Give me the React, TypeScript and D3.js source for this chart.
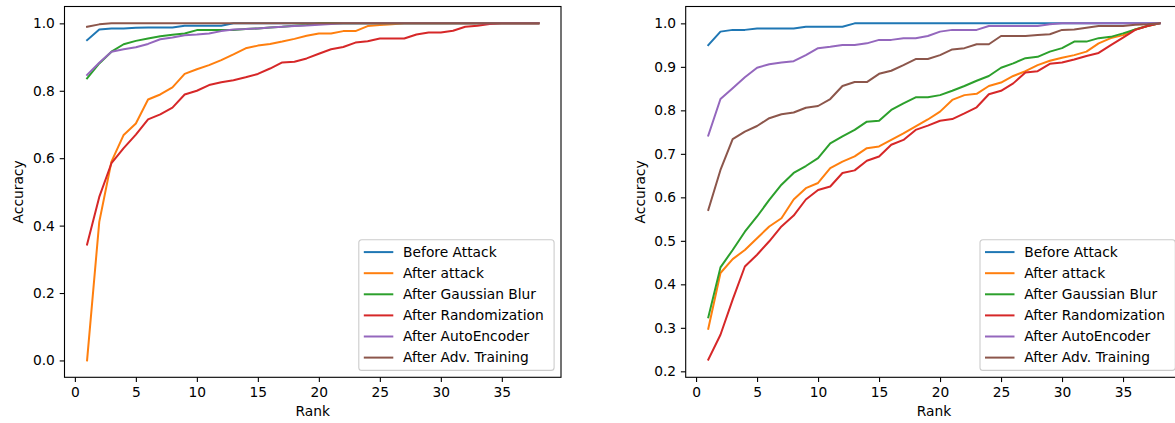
import React, { useRef, useEffect } from "react";
import * as d3 from "d3";

const ranks = d3.range(1, 39);
const seriesNames = ["Before Attack", "After attack", "After Gaussian Blur", "After Randomization", "After AutoEncoder", "After Adv. Training"];
const colors = ["#1f77b4", "#ff7f0e", "#2ca02c", "#d62728", "#9467bd", "#8c564b"];

const ones = (n: number) => Array(n).fill(1.0);

// left panel
const leftBefore = [0.95, 0.982, 0.985, 0.985, 0.987, 0.988, 0.988, 0.988, 0.993, 0.993, 0.993, 0.993, ...ones(26)];
const leftAttack = [0.0, 0.411, 0.59, 0.669, 0.703, 0.774, 0.789, 0.81, 0.85, 0.864, 0.876, 0.891, 0.908, 0.926, 0.934, 0.939, 0.946, 0.954, 0.963, 0.97, 0.97, 0.977, 0.977, 0.992, 0.995, 0.997, ...ones(12)];
const leftBlur = [0.837, 0.881, 0.916, 0.938, 0.948, 0.955, 0.962, 0.966, 0.97, 0.98, 0.98, 0.98, 0.98, 0.983, 0.985, 0.988, 0.99, 0.993, 0.995, ...ones(19)];
const leftRandom = [0.344, 0.485, 0.585, 0.63, 0.67, 0.715, 0.73, 0.75, 0.789, 0.8, 0.817, 0.825, 0.831, 0.84, 0.85, 0.866, 0.884, 0.886, 0.896, 0.91, 0.923, 0.93, 0.943, 0.947, 0.955, 0.955, 0.955, 0.967, 0.973, 0.973, 0.978, 0.99, 0.993, 0.998, ...ones(4)];
const leftAuto = [0.847, 0.883, 0.916, 0.923, 0.929, 0.939, 0.953, 0.958, 0.965, 0.967, 0.97, 0.977, 0.982, 0.983, 0.985, 0.988, 0.99, 0.992, 0.994, 0.996, 0.998, ...ones(17)];
const leftAdv = [0.99, 0.997, ...ones(36)];

// right panel
const rightBefore = [0.95, 0.981, 0.985, 0.985, 0.988, 0.988, 0.988, 0.988, 0.992, 0.992, 0.992, 0.992, ...ones(26)];
const rightAttack = [0.298, 0.426, 0.458, 0.479, 0.506, 0.533, 0.552, 0.595, 0.621, 0.633, 0.667, 0.682, 0.694, 0.713, 0.717, 0.732, 0.747, 0.763, 0.779, 0.797, 0.824, 0.835, 0.838, 0.856, 0.864, 0.879, 0.89, 0.904, 0.914, 0.921, 0.927, 0.935, 0.954, 0.966, 0.973, 0.986, 0.994, 1.0];
const rightBlur = [0.324, 0.439, 0.479, 0.521, 0.556, 0.594, 0.629, 0.656, 0.672, 0.69, 0.724, 0.74, 0.755, 0.774, 0.776, 0.801, 0.816, 0.83, 0.83, 0.835, 0.845, 0.856, 0.868, 0.879, 0.898, 0.908, 0.92, 0.923, 0.935, 0.943, 0.958, 0.958, 0.966, 0.969, 0.977, 0.986, 0.994, 1.0];
const rightRandom = [0.227, 0.284, 0.365, 0.441, 0.468, 0.499, 0.533, 0.558, 0.595, 0.617, 0.625, 0.656, 0.662, 0.684, 0.694, 0.721, 0.732, 0.755, 0.765, 0.776, 0.78, 0.793, 0.807, 0.837, 0.845, 0.862, 0.887, 0.89, 0.907, 0.91, 0.917, 0.925, 0.932, 0.95, 0.967, 0.985, 0.994, 1.0];
const rightAuto = [0.742, 0.826, 0.851, 0.876, 0.898, 0.906, 0.91, 0.913, 0.927, 0.943, 0.946, 0.95, 0.95, 0.954, 0.962, 0.962, 0.966, 0.966, 0.971, 0.981, 0.985, 0.985, 0.985, 0.994, 0.994, 0.994, 0.994, 0.994, 0.998, ...ones(9)];
const rightAdv = [0.571, 0.663, 0.734, 0.751, 0.764, 0.782, 0.791, 0.795, 0.806, 0.81, 0.826, 0.856, 0.865, 0.865, 0.884, 0.891, 0.904, 0.918, 0.918, 0.927, 0.94, 0.943, 0.952, 0.952, 0.971, 0.971, 0.971, 0.973, 0.975, 0.985, 0.986, 0.99, 0.994, 0.994, 0.994, 0.997, 0.998, 1.0];

const xTicks = [0, 5, 10, 15, 20, 25, 30, 35];
const leftYTicks = [0.0, 0.2, 0.4, 0.6, 0.8, 1.0];
const rightYTicks = [0.2, 0.3, 0.4, 0.5, 0.6, 0.7, 0.8, 0.9, 1.0];

const W = 1175;
const H = 423;
const TOP = 6.5;
const BOTTOM = 377.3;
const FONT = "DejaVu Sans, sans-serif";
const FS = 13.8;

const panels = [
  {
    left: 64.5, right: 561, yDomain: [-0.05, 1.05], yTicks: leftYTicks, ylabelX: 18,
    series: [leftBefore, leftAttack, leftBlur, leftRandom, leftAuto, leftAdv],
  },
  {
    left: 685.7, right: 1182.2, yDomain: [0.18625, 1.03875], yTicks: rightYTicks, ylabelX: 640,
    series: [rightBefore, rightAttack, rightBlur, rightRandom, rightAuto, rightAdv],
  },
];

const drawPanel = (svg: any, p: any) => {
  const x = d3.scaleLinear().domain([-0.85, 39.85]).range([p.left, p.right]);
  const y = d3.scaleLinear().domain(p.yDomain).range([BOTTOM, TOP]);

  const line = d3.line<number>().x((d, i) => x(ranks[i])).y(d => y(d));
  p.series.forEach((vals: number[], i: number) => {
    svg.append("path")
      .datum(vals)
      .attr("d", line)
      .attr("fill", "none")
      .attr("stroke", colors[i])
      .attr("stroke-width", 2)
      .attr("stroke-linejoin", "round")
      .attr("stroke-linecap", "square");
  });

  const xAxis = svg.append("g").attr("transform", `translate(0, ${BOTTOM})`)
    .call(d3.axisBottom(x).tickValues(xTicks).tickSize(4.8).tickPadding(4.8).tickFormat(d3.format("d")));
  const yAxis = svg.append("g").attr("transform", `translate(${p.left}, 0)`)
    .call(d3.axisLeft(y).tickValues(p.yTicks).tickSize(4.8).tickPadding(4.8).tickFormat(d3.format(".1f")));
  [xAxis, yAxis].forEach(a => {
    a.select(".domain").remove();
    a.selectAll("line").attr("stroke", "#000").attr("stroke-width", 1.1);
    a.selectAll("text").attr("font-family", FONT).attr("font-size", FS).attr("fill", "#000");
  });

  svg.append("rect")
    .attr("x", p.left).attr("y", TOP)
    .attr("width", p.right - p.left).attr("height", BOTTOM - TOP)
    .attr("fill", "none").attr("stroke", "#000").attr("stroke-width", 1.1);

  svg.append("text")
    .attr("x", (p.left + p.right) / 2).attr("y", 416)
    .attr("text-anchor", "middle")
    .attr("font-family", FONT).attr("font-size", FS)
    .text("Rank");
  svg.append("text")
    .attr("transform", `translate(${p.ylabelX}, ${(TOP + BOTTOM) / 2}) rotate(-90)`)
    .attr("text-anchor", "middle")
    .attr("dy", "0.35em")
    .attr("font-family", FONT).attr("font-size", FS)
    .text("Accuracy");

  // legend, lower right
  const lw = 195.3, lh = 130.7;
  const lx = p.right - 6.9 - lw;
  const ly = BOTTOM - 6.9 - lh;
  const lg = svg.append("g").attr("transform", `translate(${lx}, ${ly})`);
  lg.append("rect")
    .attr("width", lw).attr("height", lh).attr("rx", 3)
    .attr("fill", "#fff").attr("fill-opacity", 0.8)
    .attr("stroke", "#ccc").attr("stroke-width", 1.1);
  seriesNames.forEach((name, i) => {
    const cy = 12.4 + i * 21.1;
    lg.append("line")
      .attr("x1", 5).attr("x2", 34.5).attr("y1", cy).attr("y2", cy)
      .attr("stroke", colors[i]).attr("stroke-width", 2);
    lg.append("text")
      .attr("x", 44.3).attr("y", cy).attr("dy", "0.35em")
      .attr("font-family", FONT).attr("font-size", FS).attr("fill", "#000")
      .text(name);
  });
};

const ChartWrapper = () => {
  const ref = useRef<SVGSVGElement>(null);

  useEffect(() => {
    const svg = d3.select(ref.current);
    svg.selectAll("*").remove();
    panels.forEach(p => drawPanel(svg, p));
  }, []);

  return (
    <svg ref={ref} width={W} height={H}
      style={{ position: "absolute", left: 0, top: 0, background: "#fff" }} />
  );
};

export default ChartWrapper;
